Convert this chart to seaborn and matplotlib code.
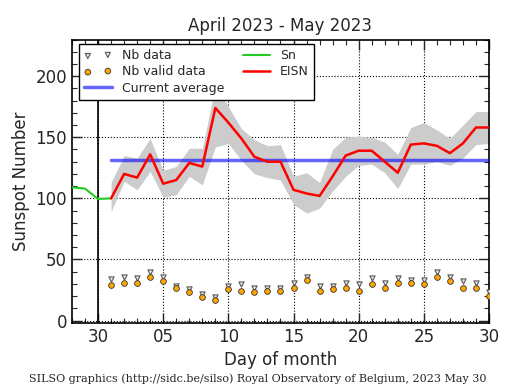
import numpy as np
import pandas as pd
import matplotlib
matplotlib.use('Agg')
import matplotlib.pyplot as plt
import seaborn as sns
from matplotlib.ticker import MultipleLocator, FixedLocator

# Day offsets from April 30 (Apr 28 = -2, May d = d)
sn_days = [-2, -1, 0, 1]
sn_values = [109, 108, 99.5, 100]

may_days = list(range(1, 31))
eisn = [100, 120, 117, 136, 112, 115, 129, 126, 174, 162,
        149, 134, 130, 130, 107, 104, 102, 118, 135, 139,
        139, 130, 121, 144, 145, 143, 137, 145, 158, 158]
eisn_upper = [113, 135, 133, 149, 123, 126, 141, 141, 192, 175,
              157, 148, 143, 144, 118, 121, 113, 140, 150, 151,
              150, 146, 136, 158, 162, 156, 149, 160, 171, 171]
eisn_lower = [89, 114, 107, 122, 101, 103, 118, 111, 142, 145,
              131, 120, 117, 115, 95, 88, 92, 106, 118, 127,
              128, 121, 108, 128, 128, 130, 127, 133, 144, 145]
nb_data = [34, 36, 35, 40, 36, 28, 26, 22, 19, 28,
           30, 27, 27, 27, 31, 36, 28, 28, 31, 30,
           35, 31, 35, 33, 33, 40, 36, 32, 31, 23]
nb_valid = [29, 31, 31, 36, 32, 27, 23, 19, 17, 26,
            24, 23, 24, 24, 27, 33, 24, 26, 27, 24,
            30, 27, 31, 31, 30, 36, 32, 27, 27, 20]
current_average = 131

tick_pos = [0, 5, 10, 15, 20, 25, 30]
tick_labels = ['30', '05', '10', '15', '20', '25', '30']

sns.set_style('ticks', {'xtick.direction': 'in', 'ytick.direction': 'in'})
plt.rcParams['font.family'] = ['DejaVu Sans']

df = pd.DataFrame({'day': may_days, 'eisn': eisn, 'upper': eisn_upper,
                   'lower': eisn_lower, 'nb': nb_data, 'valid': nb_valid})
df_sn = pd.DataFrame({'day': sn_days, 'sn': sn_values})
df_avg = pd.DataFrame({'day': [may_days[0], may_days[-1]],
                       'avg': [current_average, current_average]})

fig = plt.figure(figsize=(5.15, 3.9), dpi=100)
ax = fig.add_axes([0.1398, 0.1718, 0.8097, 0.7269])

ax.fill_between(df['day'], df['lower'], df['upper'], color='0.8', lw=0, zorder=1)
ax.axvline(0, color='black', lw=1.2, zorder=2)

sns.scatterplot(data=df, x='day', y='nb', marker='v', s=14, color='0.9',
                edgecolor='0.35', linewidth=0.8, label='Nb data', ax=ax, zorder=3)
sns.scatterplot(data=df, x='day', y='valid', marker='o', s=17, color='orange',
                edgecolor='0.2', linewidth=0.6, label='Nb valid data', ax=ax, zorder=4)
sns.lineplot(data=df_avg, x='day', y='avg', color='blue', alpha=0.6, lw=2.5,
             label='Current average', ax=ax, zorder=3)
sns.lineplot(data=df_sn, x='day', y='sn', color='#22cc22', lw=1.5,
             label='Sn', ax=ax, zorder=3)
sns.lineplot(data=df, x='day', y='eisn', color='red', lw=1.8,
             label='EISN', ax=ax, zorder=5)

ax.set_xlim(-2, 30)
ax.set_ylim(-2, 230)
ax.xaxis.set_major_locator(FixedLocator(tick_pos))
ax.set_xticklabels(tick_labels)
ax.xaxis.set_minor_locator(MultipleLocator(1))
ax.yaxis.set_major_locator(MultipleLocator(50))
ax.yaxis.set_minor_locator(MultipleLocator(10))
ax.tick_params(which='both', direction='in', top=True, right=True, labelsize=12)
ax.tick_params(which='major', length=7, width=1)
ax.tick_params(which='minor', length=3.5, width=0.8)
ax.grid(True, which='major', linestyle=':', color='black', lw=0.8)
for sp in ax.spines.values():
    sp.set_linewidth(1.2)
    sp.set_color('black')

ax.set_title('April 2023 - May 2023', fontsize=12)
ax.set_xlabel('Day of month', fontsize=12)
ax.set_ylabel('Sunspot Number', fontsize=12)

leg = ax.legend(ncol=2, loc='upper left', bbox_to_anchor=(0.017, 0.983),
                borderaxespad=0, fontsize=9, fancybox=False, framealpha=1,
                edgecolor='black', scatterpoints=2, columnspacing=1.5,
                handlelength=2.2, labelspacing=0.25)
leg.get_frame().set_linewidth(1.0)

fig.text(0.5, 0.02, 'SILSO graphics (http://sidc.be/silso) Royal Observatory of Belgium, 2023 May 30',
         ha='center', fontsize=8, family='DejaVu Serif')

fig.savefig('out.png', dpi=100)
